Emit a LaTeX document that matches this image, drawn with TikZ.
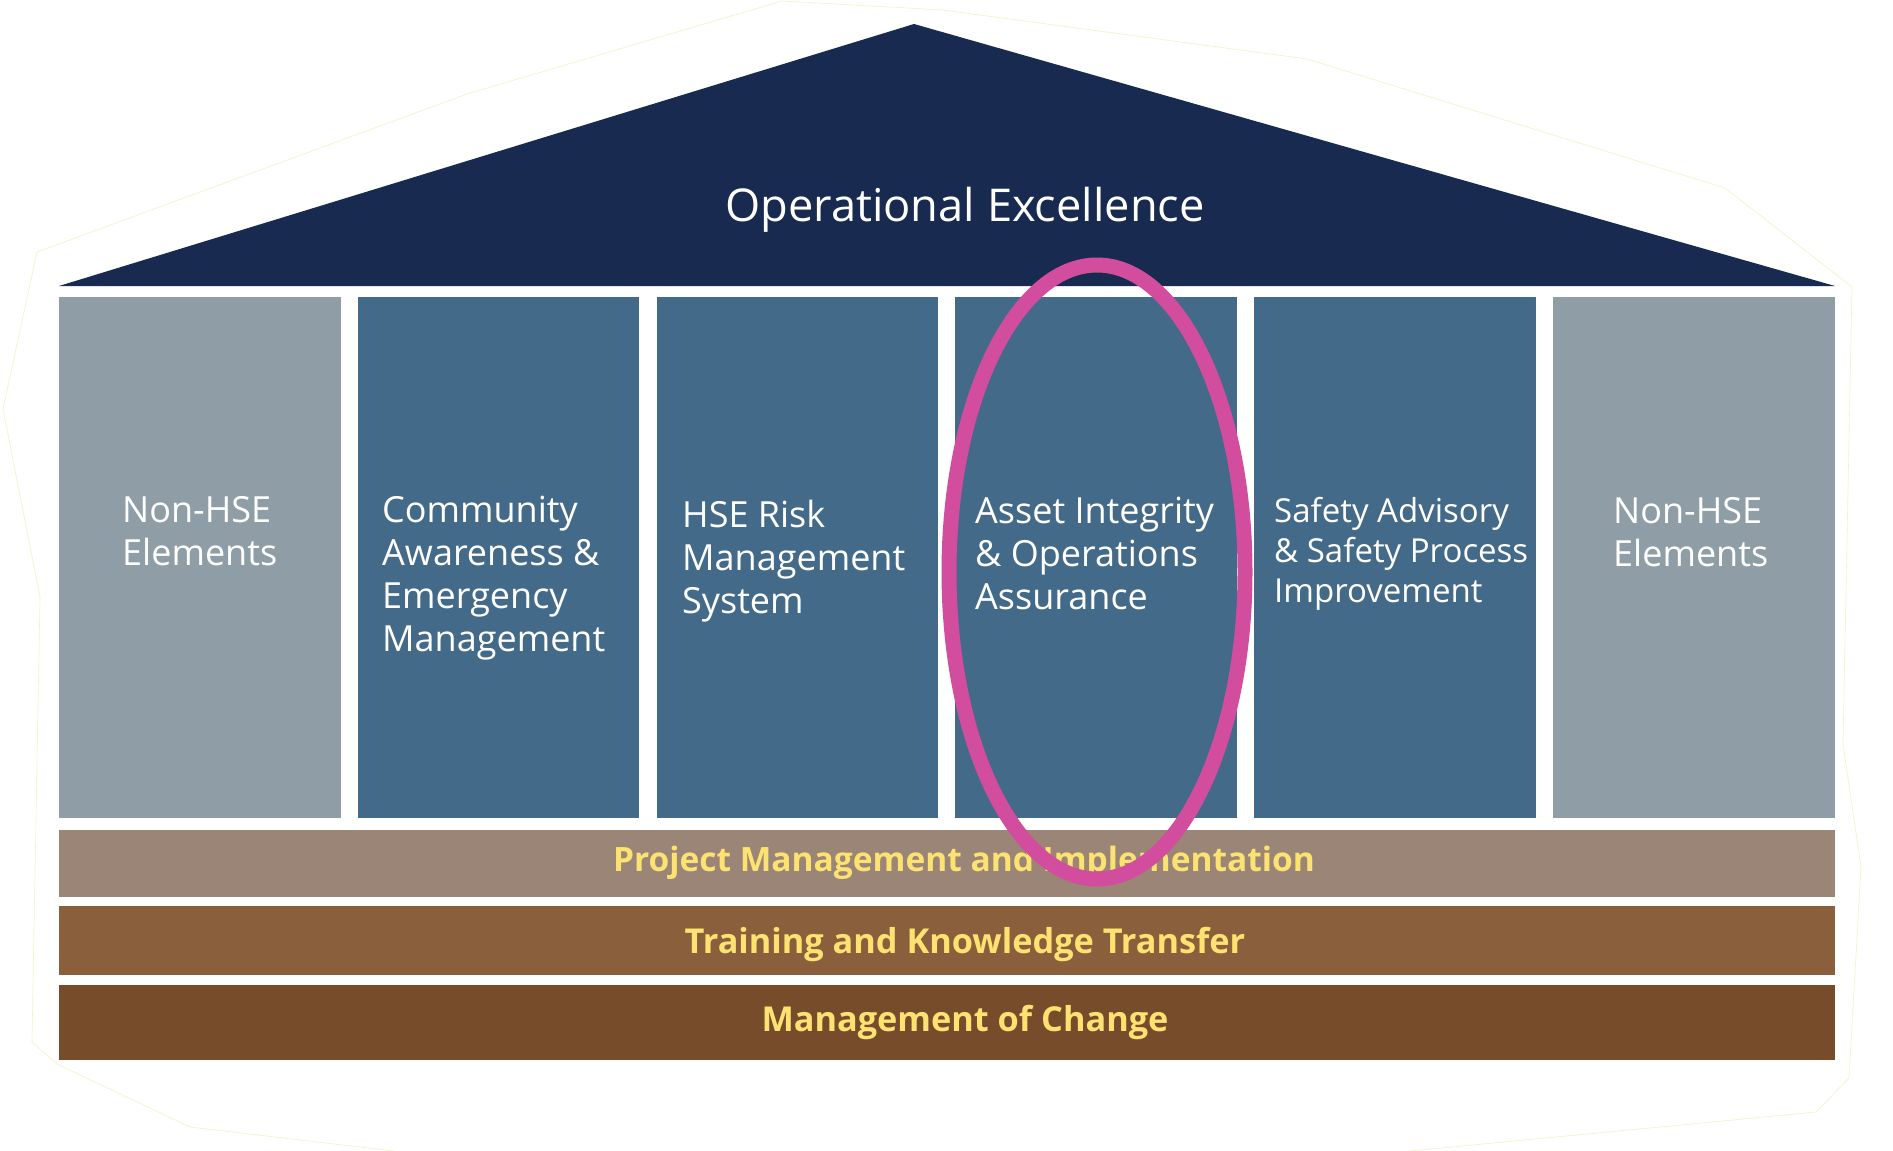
\documentclass[tikz,border=0pt]{standalone}
\usepackage{fontspec}
\setmainfont{Open Sans}
\definecolor{roofc}{HTML}{182A50}
\definecolor{pillarblue}{HTML}{446A8A}
\definecolor{pillargray}{HTML}{8F9EA6}
\definecolor{bandone}{HTML}{9A8577}
\definecolor{bandtwo}{HTML}{8A5F3C}
\definecolor{bandthree}{HTML}{774C2A}
\definecolor{bandtext}{HTML}{FCE271}
\definecolor{ringc}{HTML}{D34D9E}
\definecolor{outlinec}{HTML}{F5F0C8}
\begin{document}
\begin{tikzpicture}[x=1pt,y=-1pt,
  pillarbox/.style={fill=pillarblue,draw=none},
  sidebox/.style={fill=pillargray,draw=none},
  pillartext/.style={anchor=base west,inner sep=0pt,text=white,font=\fontsize{36}{43}\selectfont},
  bandlabel/.style={inner sep=0pt,text=bandtext,font=\fontsize{33.5}{40}\selectfont\bfseries}]
\useasboundingbox (0,0) rectangle (1893,1151);
\fill[white] (0,0) rectangle (1893,1151);
% faint outline
\draw[outlinec,line width=0.6pt] (394,1151) -- (190,1127) -- (57,1064) -- (32,1042) -- (40,597) -- (3,409) -- (37,252) -- (467,94) -- (782,1) -- (943,10) -- (1307,59) -- (1725,188) -- (1852,287) -- (1843,744) -- (1861,867) -- (1849,1078) -- (1816,1112) -- (1410,1151);
% roof
\fill[roofc] (59,286) -- (914,24) -- (1835,286) -- cycle;
\node[text=white,inner sep=0pt,font=\fontsize{45.2}{50}\selectfont] (roof) at (965,210) {Operational Excellence};
% pillars
\fill[sidebox] (59,297) rectangle (341,818);
\fill[pillarbox] (358,297) rectangle (639,818);
\fill[pillarbox] (657,297) rectangle (938,818);
\fill[pillarbox] (955,297) rectangle (1237,818);
\fill[pillarbox] (1254,297) rectangle (1536,818);
\fill[sidebox] (1553,297) rectangle (1835,818);
\node[pillartext] (p1) at (122,522) {\begin{tabular}[t]{@{}l@{}}Non-HSE\\Elements\end{tabular}};
\node[pillartext] (p2) at (382,522) {\begin{tabular}[t]{@{}l@{}}Community\\Awareness \&\\Emergency\\Management\end{tabular}};
\node[pillartext] (p3) at (682,527) {\begin{tabular}[t]{@{}l@{}}HSE Risk\\Management\\System\end{tabular}};
\node[pillartext] (p4) at (975,523) {\begin{tabular}[t]{@{}l@{}}Asset Integrity\\\& Operations\\Assurance\end{tabular}};
\node[pillartext,font=\fontsize{33}{40}\selectfont] (p5) at (1274,522) {\begin{tabular}[t]{@{}l@{}}Safety Advisory\\\& Safety Process\\Improvement\end{tabular}};
\node[pillartext] (p6) at (1613,523) {\begin{tabular}[t]{@{}l@{}}Non-HSE\\Elements\end{tabular}};
% bands
\fill[bandone] (59,830) rectangle (1835,897);
\fill[bandtwo] (59,906) rectangle (1835,975);
\fill[bandthree] (59,985) rectangle (1835,1060);
\node[bandlabel] (b1) at (964,863) {Project Management and Implementation};
\node[bandlabel,font=\fontsize{34.3}{40}\selectfont\bfseries] (b2) at (965,944) {Training and Knowledge Transfer};
\node[bandlabel,font=\fontsize{34.3}{40}\selectfont\bfseries] (b3) at (965,1022) {Management of Change};
% highlight ring
\draw[ringc,line width=15pt] (1097,572) ellipse [x radius=148, y radius=307];
\end{tikzpicture}
\end{document}
